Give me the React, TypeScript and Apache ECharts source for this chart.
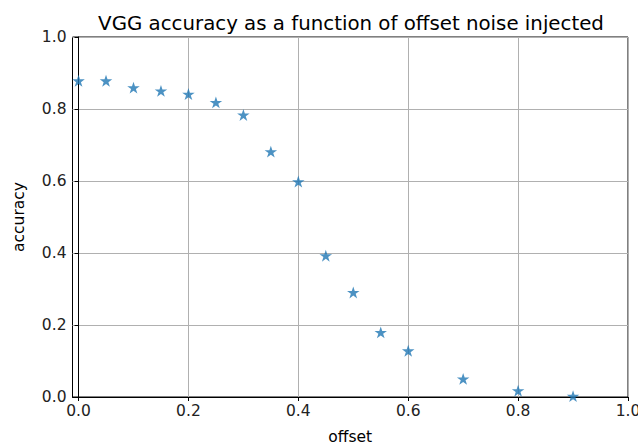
import React, { useEffect, useRef } from "react";
import * as echarts from "echarts";

const offsets = [0.0, 0.05, 0.1, 0.15, 0.2, 0.25, 0.3, 0.35, 0.4, 0.45, 0.5, 0.55, 0.6, 0.7, 0.8, 0.9];
const accuracy = [0.88, 0.88, 0.861, 0.852, 0.843, 0.82, 0.785, 0.683, 0.6, 0.394, 0.292, 0.181, 0.13, 0.052, 0.019, 0.004];
const xTicks = [0, 0.2, 0.4, 0.6, 0.8, 1.0];
const yTicks = [0, 0.2, 0.4, 0.6, 0.8, 1.0];

function starPath(): string {
  const pts: string[] = [];
  for (let i = 0; i < 10; i++) {
    const r = i % 2 === 0 ? 50 : 50 * 0.381966;
    const a = ((-90 + 36 * i) * Math.PI) / 180;
    pts.push(`${(50 + r * Math.cos(a)).toFixed(2)} ${(50 + r * Math.sin(a)).toFixed(2)}`);
  }
  return "path://M" + pts.join(" L") + " Z";
}

export default function App() {
  const ref = useRef<HTMLDivElement>(null);
  useEffect(() => {
    if (!ref.current) return;
    const chart = echarts.init(ref.current, null, { renderer: "svg" });
    const font = "DejaVu Sans";
    chart.setOption({
      animation: false,
      backgroundColor: "#ffffff",
      title: {
        text: "VGG accuracy as a function of offset noise injected",
        left: 346,
        textAlign: "center",
        top: 8,
        textStyle: { fontFamily: font, fontSize: 19.8, fontWeight: "normal", color: "#000" },
      },
      grid: {
        left: 72.5,
        right: 10,
        top: 37,
        bottom: 48,
        show: true,
        borderColor: "#000",
        borderWidth: 1,
        backgroundColor: "transparent",
        containLabel: false,
        outerBoundsMode: "none",
      },
      xAxis: {
        type: "value",
        min: -0.011,
        max: 1.0,
        name: "offset",
        nameLocation: "middle",
        nameGap: 32,
        nameTextStyle: { fontFamily: font, fontSize: 15.5, color: "#000" },
        axisLine: { show: true, onZero: false, lineStyle: { color: "#000", width: 1 } },
        axisTick: { show: true, inside: false, length: 4, customValues: xTicks, lineStyle: { color: "#000" } },
        axisLabel: {
          customValues: xTicks,
          fontFamily: font,
          fontSize: 15.5,
          color: "#222",
          margin: 6,
          formatter: (v: number) => v.toFixed(1),
        },
        splitLine: { show: true, lineStyle: { color: "#b0b0b0", width: 1 } },
      },
      yAxis: {
        type: "value",
        min: 0,
        max: 1,
        interval: 0.2,
        name: "accuracy",
        nameLocation: "middle",
        nameGap: 46,
        nameTextStyle: { fontFamily: font, fontSize: 15.5, color: "#000" },
        axisLine: { show: true, lineStyle: { color: "#000", width: 1 } },
        axisTick: { show: true, inside: false, length: 4, lineStyle: { color: "#000" } },
        axisLabel: {
          fontFamily: font,
          fontSize: 15.5,
          color: "#222",
          margin: 6,
          formatter: (v: number) => v.toFixed(1),
          customValues: yTicks,
        },
        splitLine: { show: true, lineStyle: { color: "#b0b0b0", width: 1 } },
      },
      series: [
        {
          type: "scatter",
          data: offsets.map((x, i) => [x, accuracy[i]]),
          symbol: starPath(),
          symbolSize: [12.5, 11.9],
          symbolOffset: [0, 0.55],
          itemStyle: { color: "#1f77b4" },
          clip: true,
        },
      ],
    });
    return () => chart.dispose();
  }, []);
  return (
    <div
      ref={ref}
      style={{ position: "fixed", left: 0, top: 0, width: 638, height: 445 }}
    />
  );
}
